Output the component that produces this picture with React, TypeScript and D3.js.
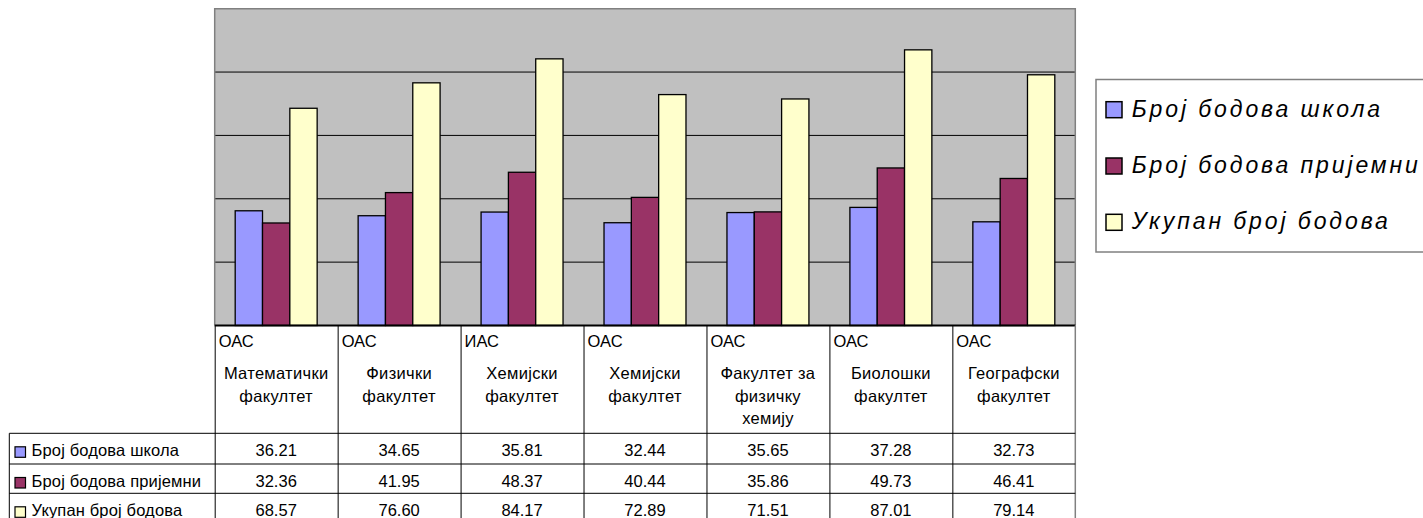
import React from "react";
import * as d3 from "d3";

const institutes = ["ОАС", "ОАС", "ИАС", "ОАС", "ОАС", "ОАС", "ОАС"];
const faculties = [
  ["Математички", "факултет"],
  ["Физички", "факултет"],
  ["Хемијски", "факултет"],
  ["Хемијски", "факултет"],
  ["Факултет за", "физичку", "хемију"],
  ["Биолошки", "факултет"],
  ["Географски", "факултет"],
];
const seriesNames = ["Број бодова школа", "Број бодова пријемни", "Укупан број бодова"];
const schoolPoints = [36.21, 34.65, 35.81, 32.44, 35.65, 37.28, 32.73];
const entrancePoints = [32.36, 41.95, 48.37, 40.44, 35.86, 49.73, 46.41];
const totalPoints = [68.57, 76.6, 84.17, 72.89, 71.51, 87.01, 79.14];
const yTicks = [0, 20, 40, 60, 80, 100];
const colors = ["#9999FF", "#993366", "#FFFFCC"];

const series = [schoolPoints, entrancePoints, totalPoints];
const catIdx = institutes.map((_, i) => String(i));

const FONT = "'Liberation Sans', Arial, sans-serif";

export default function App() {
  const W = 1423;
  const H = 518;
  const left = 214.7;
  const right = 1075.3;
  const top = 8.7;
  const bottom = 325.5;

  const x = d3.scaleBand().domain(catIdx).range([left, right]).paddingInner(0).paddingOuter(0);
  const bw = x.bandwidth() / 4.5;
  const xs = d3
    .scaleBand()
    .domain(["0", "1", "2"])
    .range([bw * 0.75, bw * 3.75]);
  const y = d3.scaleLinear().domain([0, 100]).range([bottom, top]);

  const rowTops = [433.3, 464, 493.3];
  const rowBottom = 522;
  const tableLeft = 9.3;

  return (
    <svg
      width={W}
      height={H}
      style={{ position: "absolute", left: 0, top: 0, fontFamily: FONT }}
    >
      <rect x={0} y={0} width={W} height={H} fill="#ffffff" />
      {/* plot area */}
      <rect x={left} y={top} width={right - left} height={bottom - top} fill="#C0C0C0" />
      {yTicks
        .filter((t) => t > 0 && t < 100)
        .map((t) => (
          <line key={t} x1={left} x2={right} y1={y(t)} y2={y(t)} stroke="#000" strokeWidth={1} />
        ))}
      <path
        d={`M${left},${bottom} V${top} H${right} V${bottom}`}
        fill="none"
        stroke="#808080"
        strokeWidth={1.5}
      />
      {/* bars */}
      {series.map((vals, si) =>
        vals.map((v, ci) => (
          <rect
            key={`${si}-${ci}`}
            x={(x(String(ci)) as number) + (xs(String(si)) as number)}
            y={y(v)}
            width={xs.bandwidth()}
            height={bottom - y(v)}
            fill={colors[si]}
            stroke="#000"
            strokeWidth={1.3}
          />
        ))
      )}
      <line x1={left} x2={right} y1={bottom} y2={bottom} stroke="#000" strokeWidth={2} />

      {/* data table header */}
      {catIdx.map((c, ci) => {
        const cx = x(c) as number;
        return (
          <g key={c}>
            <text x={cx + 4} y={347.3} fontSize={16.5} fill="#000">
              {institutes[ci]}
            </text>
            {faculties[ci].map((ln, li) => (
              <text
                key={li}
                x={cx + x.bandwidth() / 2}
                y={379.3 + li * 22.3}
                fontSize={16.5}
                letterSpacing={0.3}
                textAnchor="middle"
                fill="#000"
              >
                {ln}
              </text>
            ))}
          </g>
        );
      })}
      {/* vertical lines */}
      {catIdx.map((c) => (
        <line
          key={`v${c}`}
          x1={(x(c) as number) + 0.5}
          x2={(x(c) as number) + 0.5}
          y1={bottom}
          y2={rowBottom}
          stroke="#000"
          strokeWidth={1}
        />
      ))}
      <line x1={right} x2={right} y1={bottom} y2={rowBottom} stroke="#808080" strokeWidth={1.5} />
      {/* left table border */}
      <line x1={tableLeft} x2={tableLeft} y1={rowTops[0]} y2={rowBottom} stroke="#000" strokeWidth={1} />
      {rowTops.map((ry, ri) => (
        <line key={`h${ri}`} x1={tableLeft} x2={right} y1={ry} y2={ry} stroke="#000" strokeWidth={1} />
      ))}
      {/* row labels & values */}
      {series.map((vals, si) => {
        const baseline = rowTops[si] + 23;
        return (
          <g key={`row${si}`}>
            <rect
              x={15}
              y={rowTops[si] + 13.5}
              width={10.5}
              height={10.5}
              fill={colors[si]}
              stroke="#000"
              strokeWidth={1.2}
            />
            <text x={31.5} y={baseline} fontSize={16.5} letterSpacing={0.15} fill="#000">
              {seriesNames[si]}
            </text>
            {vals.map((v, ci) => (
              <text
                key={ci}
                x={(x(String(ci)) as number) + x.bandwidth() / 2}
                y={baseline}
                fontSize={16.5}
                textAnchor="middle"
                fill="#000"
              >
                {d3.format(".2f")(v)}
              </text>
            ))}
          </g>
        );
      })}

      {/* legend */}
      <rect x={1096} y={79.5} width={400} height={172.5} fill="#fff" stroke="#808080" strokeWidth={1.5} />
      {seriesNames.map((n, si) => {
        const baseline = 116.7 + si * 56.3;
        return (
          <g key={`lg${si}`}>
            <rect
              x={1106}
              y={baseline - 15}
              width={16}
              height={16}
              fill={colors[si]}
              stroke="#000"
              strokeWidth={1.5}
            />
            <text x={1131.7} y={baseline} fontSize={23} fontStyle="italic" letterSpacing={2.9} fill="#000">
              {n}
            </text>
          </g>
        );
      })}
    </svg>
  );
}
